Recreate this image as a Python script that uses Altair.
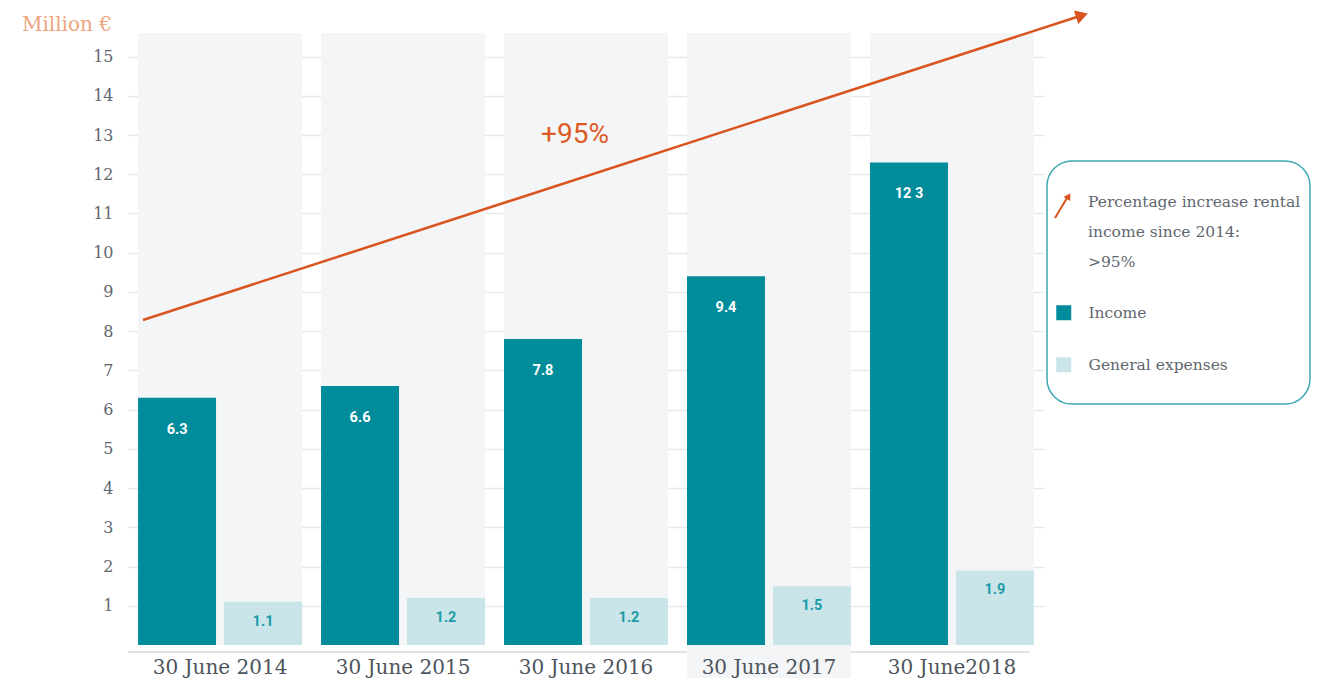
import altair as alt
import pandas as pd

# ---------------- data ----------------
dates = ["30 June 2014", "30 June 2015", "30  June 2016", "30 June 2017", "30 June2018"]
income = [6.3, 6.6, 7.8, 9.4, 12.3]
income_labels = ["6.3", "6.6", "7.8", "9.4", "12 3"]
expenses = [1.1, 1.2, 1.2, 1.5, 1.9]
expense_labels = ["1.1", "1.2", "1.2", "1.5", "1.9"]
series = ["Income", "General expenses"]
y_ticks = list(range(1, 16))
unit_label = "Million  €"
growth_label = "+95%"
legend_note = ["Percentage increase rental", "income since 2014:", ">95%"]

# ---------------- styles ----------------
TEAL = "#008C9B"
LIGHT = "#C9E5E9"
PANEL = "#F4F5F7"
GRID = "#E6E9EC"
TXT = "#5F6770"
ORANGE = "#D9541E"
SERIF = "DejaVu Serif"
SANS = "Roboto"

W, H = 916, 612

rows = []
for d, inc, il, ex, el in zip(dates, income, income_labels, expenses, expense_labels):
    rows.append({"date": d, "series": series[0], "value": inc, "label": il})
    rows.append({"date": d, "series": series[1], "value": ex, "label": el})
df = pd.DataFrame(rows)
panels = pd.DataFrame({"date": dates})

x_enc = alt.X(
    "date:N",
    sort=dates,
    scale=alt.Scale(domain=dates, paddingInner=0.104, paddingOuter=0.055),
    axis=alt.Axis(
        title=None, domain=False, ticks=False, grid=False,
        labelFont=SERIF, labelFontSize=20, labelColor="#4D545C",
        labelPadding=28, labelBaseline="alphabetic", labelAngle=0, zindex=1,
    ),
)
y_scale = alt.Scale(domain=[0, 15.6], nice=False, zero=True)
y_axis = alt.Axis(
    title=None, domain=False, ticks=False, values=y_ticks,
    labelFont=SERIF, labelFontSize=16, labelColor=TXT, labelPadding=15,
    grid=True, gridColor=GRID, gridWidth=1.5,
)
xoff = alt.XOffset("series:N", sort=series, scale=alt.Scale(domain=series, paddingInner=0.093, paddingOuter=0))

one = pd.DataFrame({"k": [0]})

baseline = alt.Chart(one).mark_rule(color="#E1E4E7", strokeWidth=2).encode(
    x=alt.value(0), x2=alt.value(902), y=alt.value(619)
)

panel_std = alt.Chart(panels).transform_filter(
    alt.datum.date != dates[3]
).mark_bar(color=PANEL).encode(
    x=x_enc, y=alt.value(0), y2=alt.value(H)
)
panel_ext = alt.Chart(panels).transform_filter(
    alt.datum.date == dates[3]
).mark_bar(color=PANEL).encode(
    x=x_enc, y=alt.value(0), y2=alt.value(H + 40)
)

bars = alt.Chart(df).mark_bar().encode(
    x=x_enc,
    xOffset=xoff,
    y=alt.Y("value:Q", scale=y_scale, axis=y_axis),
    color=alt.Color(
        "series:N",
        scale=alt.Scale(domain=series, range=[TEAL, LIGHT]),
        legend=alt.Legend(
            orient="none", legendX=928, legendY=272, title=None, padding=0,
            symbolType="square", symbolSize=225, symbolStrokeWidth=0,
            symbolOpacity=1,
            labelFont=SERIF, labelFontSize=15.5, labelColor=TXT,
            labelOffset=17, rowPadding=35, labelLimit=300, direction="vertical",
        ),
    ),
)

inc_text = alt.Chart(df).transform_filter(
    alt.datum.series == series[0]
).mark_text(font=SANS, fontWeight="bold", fontSize=14.5, color="white", dy=32, baseline="middle").encode(
    x=x_enc, xOffset=xoff, y=alt.Y("value:Q", scale=y_scale, axis=y_axis), text="label:N"
)
exp_text = alt.Chart(df).transform_filter(
    alt.datum.series == series[1]
).mark_text(font=SANS, fontWeight="bold", fontSize=14.5, color="#1C9BA7", dy=20, baseline="middle").encode(
    x=x_enc, xOffset=xoff, y=alt.Y("value:Q", scale=y_scale, axis=y_axis), text="label:N"
)

# trend arrow
arrow_line = alt.Chart(one).mark_rule(color=ORANGE, strokeWidth=2.5).encode(
    x=alt.value(15), y=alt.value(287), x2=alt.value(952), y2=alt.value(-17)
)
arrow_head = alt.Chart(one).mark_point(
    shape="triangle", filled=True, color=ORANGE, opacity=1, size=200, angle=72
).encode(x=alt.value(952), y=alt.value(-17))

growth = alt.Chart(pd.DataFrame({"t": [growth_label]})).mark_text(
    font=SANS, fontSize=28, color="#DD5A24", baseline="middle", align="center"
).encode(x=alt.value(447), y=alt.value(102), text="t:N")

unit = alt.Chart(pd.DataFrame({"t": [unit_label]})).mark_text(
    font=SERIF, fontSize=20, color="#EEA47E", baseline="middle", align="right"
).encode(x=alt.value(-16), y=alt.value(-8), text="t:N")

# legend box and arrow entry
box = alt.Chart(one).mark_rect(
    fill="white", fillOpacity=0, stroke="#3BA8B2", strokeWidth=1.5, cornerRadius=25
).encode(x=alt.value(919), x2=alt.value(1182), y=alt.value(128), y2=alt.value(371))

icon_line = alt.Chart(one).mark_rule(color=ORANGE, strokeWidth=2).encode(
    x=alt.value(927), y=alt.value(185), x2=alt.value(939), y2=alt.value(165)
)
icon_head = alt.Chart(one).mark_point(
    shape="triangle", filled=True, color=ORANGE, opacity=1, size=60, angle=31
).encode(x=alt.value(940), y=alt.value(164))

note = alt.Chart(pd.DataFrame({"t": ["\n".join(legend_note)]})).mark_text(
    font=SERIF, fontSize=15.5, color=TXT, align="left", baseline="alphabetic",
    lineBreak="\n", lineHeight=30,
).encode(x=alt.value(960), y=alt.value(174), text="t:N")

chart = alt.layer(
    baseline, panel_std, panel_ext, bars, inc_text, exp_text,
    arrow_line, arrow_head, growth, unit, box, icon_line, icon_head, note,
).properties(
    width=W, height=H,
    background="white",
    autosize=alt.AutoSizeParams(type="none"),
    padding={"left": 120, "top": 25, "right": 267, "bottom": 33},
).configure_view(strokeWidth=0, stroke="transparent", clip=False)

chart.save("out.html", embed_options={"renderer": "svg", "actions": False})
